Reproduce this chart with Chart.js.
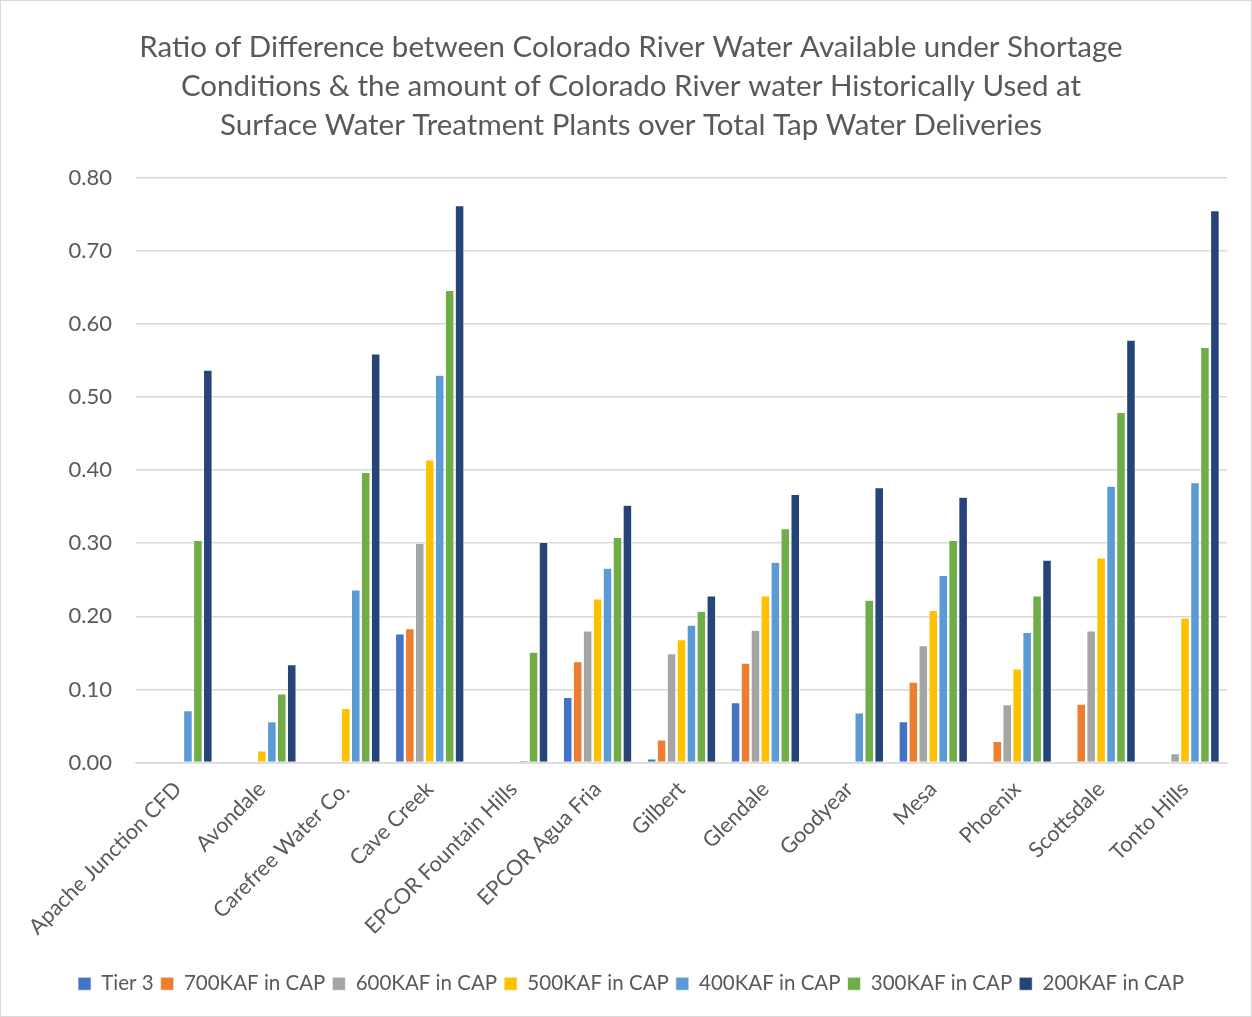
<!DOCTYPE html>
<html>
<head>
<meta charset="utf-8">
<script src="https://cdn.jsdelivr.net/npm/chart.js@4/dist/chart.umd.min.js"></script>
<style>
  html, body { margin: 0; padding: 0; background: #ffffff; }
  #wrap { position: relative; width: 1252px; height: 1017px; box-sizing: border-box; border: 1px solid #d9d9d9; }
  canvas { display: block; }
</style>
</head>
<body>
<div id="wrap"><canvas id="chart"></canvas></div>
<script>
// Water providers
const categories = [
  'Apache Junction CFD', 'Avondale', 'Carefree Water Co.', 'Cave Creek',
  'EPCOR Fountain Hills', 'EPCOR Agua Fria', 'Gilbert', 'Glendale',
  'Goodyear', 'Mesa', 'Phoenix', 'Scottsdale', 'Tonto Hills'
];

// Shortage scenarios (null = no shortfall)
const tier3     = [null, null, null, 0.176, null, 0.089, 0.005, 0.082, null, 0.056, null, null, null];
const kaf700    = [null, null, null, 0.183, null, 0.138, 0.031, 0.136, null, 0.110, 0.029, 0.080, null];
const kaf600    = [null, null, null, 0.300, null, 0.180, 0.149, 0.181, null, 0.160, 0.079, 0.180, 0.012];
const kaf500    = [null, 0.016, 0.074, 0.414, null, 0.224, 0.168, 0.228, null, 0.208, 0.128, 0.280, 0.198];
const kaf400    = [0.071, 0.056, 0.236, 0.530, 0.003, 0.266, 0.188, 0.274, 0.068, 0.256, 0.178, 0.378, 0.383];
const kaf300    = [0.304, 0.094, 0.397, 0.646, 0.151, 0.308, 0.207, 0.320, 0.222, 0.304, 0.228, 0.479, 0.568];
const kaf200    = [0.537, 0.134, 0.559, 0.762, 0.301, 0.352, 0.228, 0.367, 0.376, 0.363, 0.277, 0.578, 0.755];

const seriesNames  = ['Tier 3', '700KAF in CAP', '600KAF in CAP', '500KAF in CAP', '400KAF in CAP', '300KAF in CAP', '200KAF in CAP'];
const seriesValues = [tier3, kaf700, kaf600, kaf500, kaf400, kaf300, kaf200];
const seriesColors = ['#4472C4', '#ED7D31', '#A5A5A5', '#FFC000', '#5B9BD5', '#70AD47', '#264478'];

const titleLines = [
  'Ratio of Difference between Colorado River Water Available under Shortage',
  'Conditions & the amount of Colorado River water Historically Used at',
  'Surface Water Treatment Plants over Total Tap Water Deliveries'
];

const FONT = 'Lato, "Open Sans", sans-serif';
const TEXT = '#595959';
const GRID = '#d9d9d9';

new Chart(document.getElementById('chart'), {
  type: 'bar',
  data: {
    labels: categories,
    datasets: seriesNames.map((name, i) => ({
      label: name,
      data: seriesValues[i],
      backgroundColor: seriesColors[i],
      borderColor: '#ffffff',
      borderWidth: 0.6,
      categoryPercentage: 0.83,
      barPercentage: 0.88
    }))
  },
  options: {
    responsive: true,
    maintainAspectRatio: false,
    animation: false,
    layout: { padding: { left: 10, right: 0, top: 0, bottom: 12 } },
    plugins: {
      title: {
        display: true,
        text: titleLines,
        color: TEXT,
        font: { family: FONT, size: 29.5, weight: 'normal', lineHeight: 1.32 },
        padding: { top: 27, bottom: 33 }
      },
      legend: {
        position: 'bottom',
        labels: {
          color: TEXT,
          font: { family: FONT, size: 20.5 },
          boxWidth: 13,
          boxHeight: 13,
          padding: 7
        }
      },
      tooltip: { enabled: false }
    },
    scales: {
      x: {
        grid: { display: false },
        border: { color: GRID, width: 1.5 },
        ticks: {
          color: TEXT,
          font: { family: FONT, size: 21.5 },
          maxRotation: 45,
          minRotation: 45,
          padding: 6,
          autoSkip: false
        },
        afterFit(scale) {
          scale.height = 204;
          // keep a right margin beside the plot area
          scale.paddingRight = 24;
        }
      },
      y: {
        min: 0,
        max: 0.8,
        ticks: {
          stepSize: 0.1,
          color: TEXT,
          font: { family: FONT, size: 22 },
          padding: 24,
          callback: v => v.toFixed(2)
        },
        grid: { color: GRID, lineWidth: 1.5, drawTicks: false },
        border: { display: false },
        afterFit(scale) { scale.width = 125; }
      }
    }
  }
});
</script>
</body>
</html>
